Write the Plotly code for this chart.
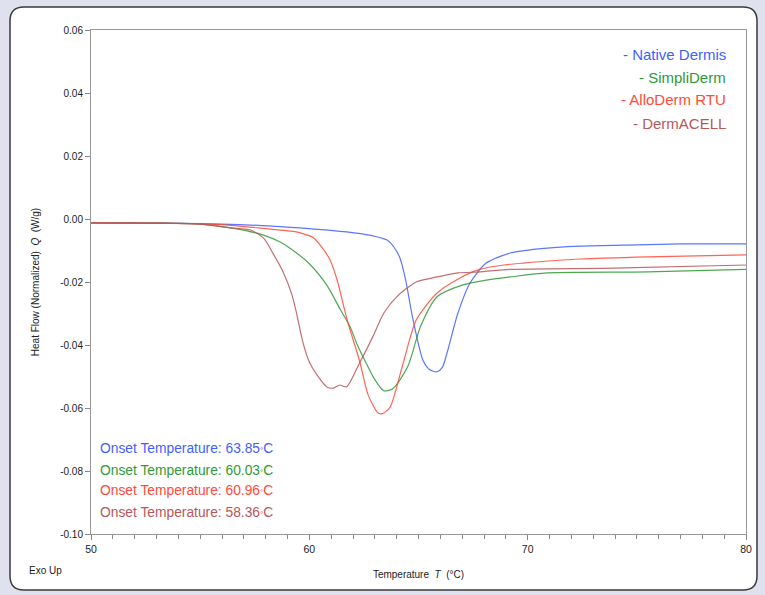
import plotly.graph_objects as go

# ---------------- data ----------------
native_x = [50, 53, 56, 58.66, 61.7, 62.8, 63.56, 63.9, 64.15, 64.4, 64.75, 65.2, 65.5, 65.85, 66.1, 66.3, 66.8, 67.36, 68.1, 69.2, 70.5, 72.4, 75, 77, 80]
native_y = [-0.0012, -0.0013, -0.0016, -0.0024, -0.0041, -0.0052, -0.0067, -0.0092, -0.0124, -0.019, -0.032, -0.0448, -0.0478, -0.0485, -0.0470, -0.0427, -0.0300, -0.0203, -0.0140, -0.0108, -0.0095, -0.0086, -0.0082, -0.0079, -0.0079]

simpli_x = [50, 53, 55, 56.4, 57.9, 58.66, 59.1, 60.0, 60.8, 61.4, 61.85, 62.2, 62.6, 63.0, 63.4, 63.8, 64.5, 65.1, 65.85, 67, 68.1, 69.2, 70.9, 75.5, 80]
simpli_y = [-0.0012, -0.0013, -0.0016, -0.0028, -0.0051, -0.0073, -0.0092, -0.0142, -0.0210, -0.0285, -0.0340, -0.0400, -0.0457, -0.0510, -0.0545, -0.0540, -0.0470, -0.0340, -0.0247, -0.0210, -0.0194, -0.0184, -0.0171, -0.0168, -0.0160]

allo_x = [50, 53, 56, 57.9, 59.4, 59.9, 60.2, 60.5, 60.95, 61.3, 61.55, 61.8, 62.3, 62.7, 63.15, 63.35, 63.7, 64.3, 64.9, 65.85, 66.9, 67.8, 68.9, 69.8, 72.4, 75.5, 80]
allo_y = [-0.0012, -0.0013, -0.0018, -0.0030, -0.0041, -0.0051, -0.0060, -0.0083, -0.0130, -0.0200, -0.0270, -0.0337, -0.0450, -0.0560, -0.0616, -0.0618, -0.0597, -0.0457, -0.0320, -0.0235, -0.0187, -0.0160, -0.0146, -0.0140, -0.0127, -0.0120, -0.0114]

acell_x = [50, 53, 55, 56.37, 57.3, 57.9, 58.3, 58.8, 59.2, 59.4, 59.7, 60.0, 60.35, 60.8, 61.1, 61.4, 61.7, 62.3, 62.9, 63.4, 64.0, 64.9, 65.85, 66.8, 67.8, 69.2, 73.9, 80]
acell_y = [-0.0012, -0.0013, -0.0016, -0.0028, -0.0035, -0.0060, -0.0105, -0.0168, -0.0240, -0.0295, -0.0390, -0.0454, -0.0495, -0.0533, -0.0537, -0.0527, -0.0533, -0.0457, -0.0375, -0.0300, -0.0247, -0.0200, -0.0184, -0.0171, -0.0168, -0.0160, -0.0156, -0.0146]

series_names = ["Native Dermis", "SimpliDerm", "AlloDerm RTU", "DermACELL"]
series_colors = ["#3f60ff", "#2f9a34", "#ff4a3a", "#b8575a"]
onset_temps = ["63.85", "60.03", "60.96", "58.36"]

y_tickvals = [0.06, 0.04, 0.02, 0.00, -0.02, -0.04, -0.06, -0.08, -0.10]
y_ticktext = ["0.06", "0.04", "0.02", "0.00", "-0.02", "-0.04", "-0.06", "-0.08", "-0.10"]
x_tickvals = [50, 60, 70, 80]

# ---------------- figure ----------------
W, H = 765, 595
L, R, T, B = 91, 746, 30, 534

fig = go.Figure()
all_x = [native_x, simpli_x, allo_x, acell_x]
all_y = [native_y, simpli_y, allo_y, acell_y]
for xs, ys, name, col in zip(all_x, all_y, series_names, series_colors):
    fig.add_trace(go.Scatter(x=xs, y=ys, mode="lines", name=name,
                             line=dict(color=col, width=1.2, shape="spline", smoothing=0.7),
                             opacity=0.85, showlegend=False))

def px2paper(px, py):
    return (px - L) / (R - L), (B - py) / (B - T)

# rounded white panel with dark border
x0, y0, x1, y1, r = 10, 7, 757, 590, 14
def P(px, py):
    a, b = px2paper(px, py)
    return f"{a:.5f},{b:.5f}"
path = (f"M {P(x0 + r, y0)} L {P(x1 - r, y0)} Q {P(x1, y0)} {P(x1, y0 + r)} "
        f"L {P(x1, y1 - r)} Q {P(x1, y1)} {P(x1 - r, y1)} "
        f"L {P(x0 + r, y1)} Q {P(x0, y1)} {P(x0, y1 - r)} "
        f"L {P(x0, y0 + r)} Q {P(x0, y0)} {P(x0 + r, y0)} Z")
fig.add_shape(type="path", path=path, xref="paper", yref="paper",
              fillcolor="white", line=dict(color="#3a3a3a", width=1.5), layer="below")

font_family = "Liberation Sans, Arial, sans-serif"

# legend-like labels (top right)
leg_y = [54, 77, 100, 123]
for name, col, py in zip(series_names, series_colors, leg_y):
    xa, ya = px2paper(728, py)
    fig.add_annotation(x=xa, y=ya, xref="paper", yref="paper", text="- " + name,
                       showarrow=False, xanchor="right", yanchor="middle",
                       font=dict(family=font_family, size=15, color=col))

# onset temperature labels (bottom left)
onset_y = [449, 470, 490, 512]
for t, col, py in zip(onset_temps, series_colors, onset_y):
    xa, ya = px2paper(98, py)
    fig.add_annotation(x=xa, y=ya, xref="paper", yref="paper",
                       text=f"Onset Temperature: {t}<span style='font-size:8px'>°</span>C",
                       showarrow=False, xanchor="left", yanchor="middle",
                       font=dict(family=font_family, size=13.8, color=col))

# Exo Up
xa, ya = px2paper(27, 570)
fig.add_annotation(x=xa, y=ya, xref="paper", yref="paper", text="Exo Up",
                   showarrow=False, xanchor="left", yanchor="middle",
                   font=dict(family=font_family, size=10, color="#222"))

fig.update_layout(
    width=W, height=H,
    margin=dict(l=L, r=W - R, t=T, b=H - B),
    paper_bgcolor="#dfe2ee",
    plot_bgcolor="white",
    font=dict(family=font_family, size=10, color="#333"),
    showlegend=False,
)
fig.update_xaxes(range=[50, 80], tickvals=x_tickvals, ticks="outside", ticklen=5,
                 tickcolor="#888", showline=True, linecolor="#999", linewidth=1, mirror=True,
                 showgrid=False, zeroline=False,
                 minor=dict(dtick=1, ticks="outside", ticklen=4, tickcolor="#888"),
                 tickfont=dict(size=10.5, color="#222"),
                 title=dict(text="Temperature  <i>T</i>  (°C)", font=dict(size=10, color="#222"), standoff=17))
fig.update_yaxes(range=[-0.10, 0.06], tickvals=y_tickvals, ticktext=y_ticktext,
                 ticks="outside", ticklen=5, tickcolor="#888",
                 showline=True, linecolor="#999", linewidth=1, mirror=True,
                 showgrid=False, zeroline=False,
                 tickfont=dict(size=10, color="#222"),
                 title=dict(text="Heat Flow (Normalized)  <i>Q</i>  (W/g)", font=dict(size=10, color="#222"), standoff=18))

fig.write_html("out.html", config={"displayModeBar": False},
               post_script="document.body.style.margin='0';document.body.style.background='#dfe2ee';")
